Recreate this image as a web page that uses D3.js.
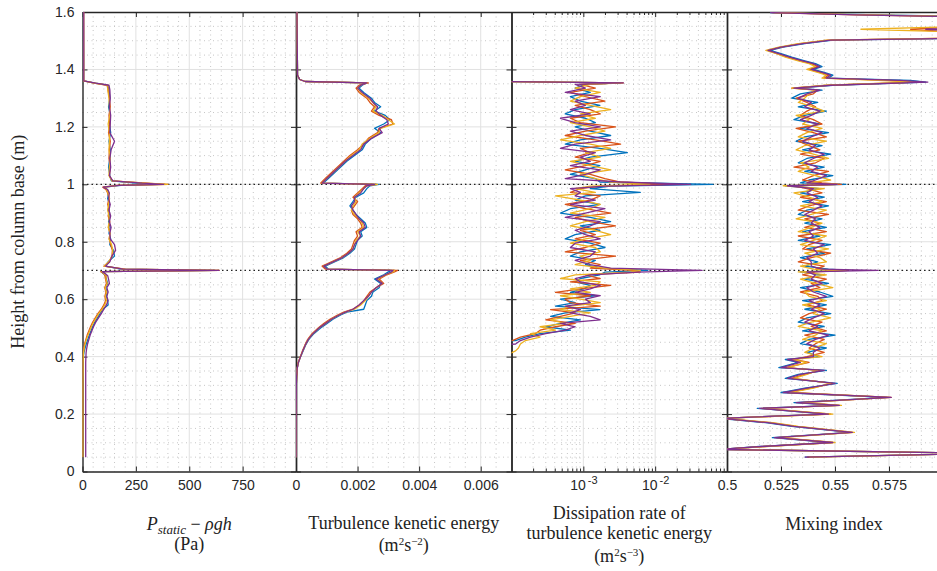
<!DOCTYPE html>
<html>
<head>
<meta charset="utf-8">
<script src="https://cdn.jsdelivr.net/npm/d3@7"></script>
<style>
  body { margin: 0; background: #fff; }
</style>
</head>
<body>
<svg id="chart" width="937" height="571"></svg>
<script>
// ---- data ----
const seriesColors = ["#0072BD", "#D95319", "#EDB120", "#7E2F8E"];

const yTicks = [0, 0.2, 0.4, 0.6, 0.8, 1.0, 1.2, 1.4, 1.6];
const yTickLabels = ["0", "0.2", "0.4", "0.6", "0.8", "1", "1.2", "1.4", "1.6"];
const refHeights = [1.0, 0.7];

// panel 1: P_static - rho g h (Pa)
const pressTicks = [0, 250, 500, 750];
const pressTickLabels = ["0", "250", "500", "750"];
const heightPress = [
  1.6, 1.36, 1.352, 1.345, 1.33, 1.30, 1.27, 1.24, 1.21, 1.18,
  1.15, 1.12, 1.09, 1.06, 1.03, 1.012, 1.004, 1.0, 0.996, 0.99,
  0.982, 0.97, 0.95, 0.93, 0.91, 0.89, 0.87, 0.85, 0.83, 0.81,
  0.79, 0.77, 0.75, 0.73, 0.715, 0.705, 0.7, 0.696, 0.69, 0.682,
  0.67, 0.655, 0.64, 0.625, 0.61, 0.595, 0.58, 0.565, 0.55, 0.535,
  0.52, 0.505, 0.49, 0.475, 0.46, 0.445, 0.43, 0.415, 0.40, 0.38,
  0.35, 0.30, 0.25, 0.20, 0.15, 0.10, 0.05
];
const pressBlue = [
  4, 5, 60, 118, 124, 128, 122, 130, 126, 132,
  124, 130, 128, 122, 128, 135, 250, 360, 180, 100,
  115, 122, 118, 126, 120, 128, 122, 130, 124, 132,
  128, 145, 150, 120, 105, 180, 620, 90, 95, 110,
  112, 118, 108, 115, 112, 118, 120, 95, 82, 70,
  58, 48, 40, 32, 25, 18, 12, 7, 4, 3,
  3, 3, 3, 3, 3, 3, 3
];
const pressOrange = [
  5, 5, 55, 115, 120, 126, 130, 124, 128, 122,
  130, 126, 124, 130, 126, 140, 300, 400, 160, 95,
  110, 118, 124, 118, 126, 120, 128, 122, 128, 126,
  132, 140, 138, 125, 100, 200, 640, 85, 100, 105,
  108, 112, 104, 110, 105, 108, 100, 88, 72, 60,
  48, 38, 30, 22, 16, 10, 6, 4, 3, 2,
  2, 2, 2, 2, 2, 2, 2
];
const pressYellow = [
  5, 6, 58, 120, 118, 124, 126, 128, 120, 126,
  126, 124, 130, 126, 124, 138, 290, 400, 170, 105,
  112, 120, 126, 122, 118, 124, 126, 120, 130, 124,
  136, 142, 140, 122, 102, 190, 640, 88, 98, 112,
  110, 116, 106, 112, 108, 112, 104, 92, 76, 64,
  52, 42, 34, 26, 18, 12, 8, 5, 3, 2,
  2, 1, 1, 1, 1, 1, 1
];
const pressPurple = [
  6, 6, 62, 124, 128, 130, 126, 132, 130, 128,
  150, 134, 128, 132, 126, 142, 280, 380, 170, 98,
  118, 126, 122, 130, 124, 132, 126, 134, 128, 130,
  150, 155, 138, 128, 108, 190, 640, 92, 105, 118,
  122, 126, 114, 120, 114, 120, 112, 100, 88, 75,
  62, 52, 44, 36, 30, 24, 20, 17, 16, 15,
  15, 15, 15, 15, 15, 15, 15
];

// panel 2: turbulence kinetic energy (m2 s-2)
const tkeTicks = [0, 0.002, 0.004, 0.006];
const tkeTickLabels = ["0", "0.002", "0.004", "0.006"];
const heightTke = [
  1.6, 1.38, 1.365, 1.358, 1.353, 1.345, 1.335, 1.32, 1.30, 1.285,
  1.27, 1.255, 1.24, 1.225, 1.21, 1.195, 1.18, 1.16, 1.14, 1.12,
  1.10, 1.08, 1.06, 1.04, 1.02, 1.004, 1.0, 0.995, 0.985, 0.97,
  0.955, 0.94, 0.925, 0.91, 0.895, 0.88, 0.865, 0.85, 0.835, 0.82,
  0.805, 0.79, 0.775, 0.76, 0.745, 0.73, 0.715, 0.705, 0.7, 0.695,
  0.685, 0.67, 0.655, 0.64, 0.625, 0.61, 0.595, 0.58, 0.565, 0.555,
  0.545, 0.53, 0.515, 0.5, 0.48, 0.46, 0.44, 0.42, 0.40, 0.38,
  0.36, 0.33, 0.30, 0.2, 0.1, 0.05
];
const tkeBlue = [
  0.03e-3, 0.05e-3, 0.12e-3, 0.3e-3, 2.3e-3, 2.15e-3, 2.05e-3, 2.2e-3, 2.45e-3, 2.55e-3,
  2.75e-3, 2.55e-3, 2.9e-3, 3.05e-3, 2.85e-3, 2.55e-3, 2.75e-3, 2.45e-3, 2.25e-3, 2.15e-3,
  1.9e-3, 1.65e-3, 1.45e-3, 1.25e-3, 1.05e-3, 0.88e-3, 2.7e-3, 2.4e-3, 2.3e-3, 2.2e-3,
  1.95e-3, 1.85e-3, 1.75e-3, 1.85e-3, 1.95e-3, 2.1e-3, 2.25e-3, 2.3e-3, 2.1e-3, 2.15e-3,
  2.0e-3, 1.95e-3, 1.9e-3, 1.75e-3, 1.55e-3, 1.25e-3, 0.95e-3, 1.05e-3, 3.1e-3, 3.0e-3,
  2.85e-3, 2.55e-3, 2.75e-3, 2.7e-3, 2.5e-3, 2.45e-3, 2.3e-3, 2.25e-3, 2.2e-3, 1.65e-3,
  1.45e-3, 1.2e-3, 1.0e-3, 0.8e-3, 0.58e-3, 0.42e-3, 0.31e-3, 0.23e-3, 0.15e-3, 0.08e-3,
  0.04e-3, 0.02e-3, 0.01e-3, 0.005e-3, 0.003e-3, 0.003e-3
];
const tkeOrange = [
  0.03e-3, 0.05e-3, 0.12e-3, 0.3e-3, 2.35e-3, 2.05e-3, 1.95e-3, 2.05e-3, 2.3e-3, 2.4e-3,
  2.55e-3, 2.45e-3, 2.7e-3, 3.1e-3, 3.15e-3, 2.7e-3, 2.65e-3, 2.35e-3, 2.2e-3, 2.0e-3,
  1.75e-3, 1.55e-3, 1.35e-3, 1.15e-3, 0.95e-3, 0.8e-3, 2.6e-3, 2.25e-3, 2.15e-3, 2.0e-3,
  1.85e-3, 2.0e-3, 1.9e-3, 1.8e-3, 1.85e-3, 2.0e-3, 2.1e-3, 2.15e-3, 1.95e-3, 2.0e-3,
  1.9e-3, 1.85e-3, 1.8e-3, 1.65e-3, 1.45e-3, 1.15e-3, 0.85e-3, 0.95e-3, 3.3e-3, 3.2e-3,
  2.95e-3, 2.7e-3, 2.85e-3, 2.6e-3, 2.4e-3, 2.3e-3, 2.2e-3, 2.05e-3, 1.85e-3, 1.55e-3,
  1.35e-3, 1.1e-3, 0.9e-3, 0.72e-3, 0.52e-3, 0.38e-3, 0.29e-3, 0.21e-3, 0.14e-3, 0.07e-3,
  0.04e-3, 0.02e-3, 0.01e-3, 0.005e-3, 0.003e-3, 0.003e-3
];
const tkeYellow = [
  0.03e-3, 0.05e-3, 0.12e-3, 0.3e-3, 2.3e-3, 2.1e-3, 2.0e-3, 2.1e-3, 2.35e-3, 2.5e-3,
  2.6e-3, 2.5e-3, 2.8e-3, 3.0e-3, 3.2e-3, 2.75e-3, 2.7e-3, 2.4e-3, 2.15e-3, 2.05e-3,
  1.8e-3, 1.6e-3, 1.4e-3, 1.2e-3, 1.0e-3, 0.85e-3, 2.65e-3, 2.3e-3, 2.2e-3, 2.05e-3,
  1.9e-3, 1.95e-3, 1.85e-3, 1.8e-3, 1.9e-3, 2.05e-3, 2.15e-3, 2.2e-3, 2.0e-3, 2.1e-3,
  1.95e-3, 1.9e-3, 1.85e-3, 1.7e-3, 1.5e-3, 1.2e-3, 0.9e-3, 1.0e-3, 3.2e-3, 3.15e-3,
  2.9e-3, 2.65e-3, 2.8e-3, 2.6e-3, 2.45e-3, 2.35e-3, 2.25e-3, 2.1e-3, 1.9e-3, 1.6e-3,
  1.4e-3, 1.15e-3, 0.95e-3, 0.75e-3, 0.55e-3, 0.4e-3, 0.3e-3, 0.22e-3, 0.15e-3, 0.08e-3,
  0.04e-3, 0.02e-3, 0.01e-3, 0.005e-3, 0.003e-3, 0.003e-3
];
const tkePurple = [
  0.03e-3, 0.05e-3, 0.12e-3, 0.3e-3, 2.3e-3, 2.1e-3, 2.0e-3, 2.15e-3, 2.4e-3, 2.5e-3,
  2.65e-3, 2.6e-3, 2.75e-3, 2.95e-3, 3.0e-3, 2.7e-3, 2.8e-3, 2.45e-3, 2.2e-3, 2.1e-3,
  1.85e-3, 1.6e-3, 1.4e-3, 1.2e-3, 1.0e-3, 0.85e-3, 2.55e-3, 2.3e-3, 2.2e-3, 2.1e-3,
  1.9e-3, 1.9e-3, 1.8e-3, 1.85e-3, 1.95e-3, 2.05e-3, 2.2e-3, 2.25e-3, 2.05e-3, 2.1e-3,
  2.0e-3, 1.9e-3, 1.85e-3, 1.7e-3, 1.5e-3, 1.2e-3, 0.9e-3, 1.0e-3, 3.15e-3, 3.1e-3,
  2.9e-3, 2.6e-3, 2.8e-3, 2.6e-3, 2.45e-3, 2.35e-3, 2.2e-3, 2.05e-3, 1.85e-3, 1.6e-3,
  1.4e-3, 1.15e-3, 0.95e-3, 0.75e-3, 0.55e-3, 0.4e-3, 0.3e-3, 0.22e-3, 0.15e-3, 0.08e-3,
  0.04e-3, 0.02e-3, 0.01e-3, 0.005e-3, 0.003e-3, 0.003e-3
];

// panel 3: dissipation rate (m2 s-3), log axis
const epsTicks = [1e-3, 1e-2];
const epsTickBase = ["10", "10"];
const epsTickExp = ["-3", "-2"];
const heightEps = [
  1.6, 1.36, 1.353, 1.348, 1.335, 1.32, 1.305, 1.29, 1.275, 1.26,
  1.245, 1.23, 1.215, 1.2, 1.185, 1.17, 1.155, 1.14, 1.125, 1.11,
  1.095, 1.08, 1.065, 1.05, 1.035, 1.02, 1.008, 1.0, 0.994, 0.985,
  0.972, 0.96, 0.945, 0.93, 0.915, 0.9, 0.885, 0.87, 0.855, 0.84,
  0.825, 0.81, 0.795, 0.78, 0.765, 0.75, 0.735, 0.72, 0.708, 0.7,
  0.694, 0.685, 0.672, 0.66, 0.648, 0.636, 0.624, 0.612, 0.6, 0.588,
  0.576, 0.564, 0.552, 0.54, 0.528, 0.516, 0.504, 0.492, 0.48, 0.468,
  0.456, 0.444, 0.43, 0.42, 0.3, 0.05
];
const epsBlue = [
  1e-5, 1e-5, 3.3e-3, 1.07e-3, 7.7e-4, 1.25e-3, 6.6e-4, 9.1e-4, 1.7e-3, 7.7e-4,
  5.6e-4, 1.07e-3, 1.47e-3, 7.7e-4, 1.25e-3, 2.4e-3, 9.1e-4, 5.6e-4, 1.7e-3, 4.1e-3,
  1.25e-3, 7.7e-4, 1.7e-3, 1.07e-3, 6.6e-4, 1.47e-3, 1.7e-3, 6.4e-2, 2.4e-3, 1.25e-3,
  6.2e-3, 1.07e-3, 7.7e-4, 1.7e-3, 6.6e-4, 4.8e-4, 1.25e-3, 2.4e-3, 9.1e-4, 1.7e-3,
  7.7e-4, 5.6e-4, 1.25e-3, 2.0e-3, 9.1e-4, 6.6e-4, 1.47e-3, 1.07e-3, 1.7e-3, 7.9e-3,
  2.0e-3, 1.7e-3, 9.1e-4, 7.7e-4, 1.25e-3, 1.0e-3, 6.6e-4, 1.47e-3, 4.8e-4, 7.7e-4,
  4.1e-4, 1.7e-3, 5.6e-4, 3.5e-4, 9.1e-4, 4.8e-4, 3.0e-4, 6.6e-4, 2.5e-4, 1.56e-4,
  1.14e-4, 1e-5, 1e-5, 1e-5, 1e-5, 1e-5
];
const epsOrange = [
  1e-5, 1e-5, 3.6e-3, 9.1e-4, 1.47e-3, 6.6e-4, 1.07e-3, 2.0e-3, 7.7e-4, 1.25e-3,
  1.72e-3, 6.6e-4, 9.1e-4, 2.8e-3, 1.07e-3, 5.6e-4, 1.47e-3, 3.3e-3, 9.1e-4, 1.25e-3,
  7.7e-4, 1.72e-3, 1.07e-3, 5.6e-4, 1.25e-3, 2.0e-3, 3.3e-3, 1.6e-2, 1.72e-3, 9.1e-4,
  6.6e-4, 1.72e-3, 1.25e-3, 5.6e-4, 1.07e-3, 2.4e-3, 7.7e-4, 1.25e-3, 2.8e-3, 9.1e-4,
  1.47e-3, 7.7e-4, 1.72e-3, 1.07e-3, 5.6e-4, 2.8e-3, 9.1e-4, 1.72e-3, 1.25e-3, 4.9e-3,
  6.2e-3, 1.07e-3, 1.72e-3, 6.6e-4, 2.4e-3, 9.1e-4, 4.1e-4, 1.25e-3, 5.6e-4, 6.6e-4,
  1.72e-3, 3.5e-4, 7.7e-4, 4.8e-4, 3.0e-4, 7.7e-4, 4.1e-4, 2.5e-4, 2.15e-4, 1.33e-4,
  1.03e-4, 1e-5, 1e-5, 1e-5, 1e-5, 1e-5
];
const epsYellow = [
  1e-5, 1e-5, 3.5e-3, 1.25e-3, 7.7e-4, 1.72e-3, 9.1e-4, 6.6e-4, 1.25e-3, 2.4e-3,
  9.1e-4, 1.47e-3, 6.6e-4, 1.25e-3, 2.0e-3, 9.1e-4, 4.8e-4, 1.25e-3, 2.4e-3, 1.07e-3,
  1.72e-3, 6.6e-4, 1.25e-3, 2.4e-3, 9.1e-4, 1.47e-3, 2.4e-3, 8.5e-3, 1.25e-3, 7.7e-4,
  1.47e-3, 4.1e-4, 9.1e-4, 1.72e-3, 1.25e-3, 6.6e-4, 2.0e-3, 1.07e-3, 6.6e-4, 1.47e-3,
  2.4e-3, 1.07e-3, 6.6e-4, 1.47e-3, 1.72e-3, 9.1e-4, 1.25e-3, 7.7e-4, 2.0e-3, 6.2e-3,
  4.5e-3, 7.7e-4, 4.8e-4, 1.72e-3, 1.47e-3, 6.6e-4, 1.25e-3, 4.8e-4, 9.1e-4, 1.72e-3,
  6.6e-4, 4.8e-4, 1.25e-3, 6.6e-4, 3.5e-4, 5.6e-4, 2.5e-4, 4.1e-4, 1.84e-4, 2.5e-4,
  1.56e-4, 1.33e-4, 1.25e-4, 1.14e-4, 1e-5, 1e-5
];
const epsPurple = [
  1e-5, 1e-5, 3.6e-3, 7.7e-4, 1.07e-3, 5.6e-4, 1.72e-3, 7.7e-4, 1.07e-3, 6.6e-4,
  1.25e-3, 4.8e-4, 7.7e-4, 1.72e-3, 6.6e-4, 1.07e-3, 2.4e-3, 7.7e-4, 4.8e-4, 1.47e-3,
  9.1e-4, 1.25e-3, 6.6e-4, 1.72e-3, 1.07e-3, 5.6e-4, 3.3e-3, 3.1e-2, 2.0e-3, 6.6e-4,
  9.1e-4, 7.7e-4, 1.47e-3, 6.6e-4, 2.0e-3, 1.07e-3, 5.6e-4, 1.72e-3, 1.25e-3, 7.7e-4,
  1.07e-3, 1.72e-3, 7.7e-4, 6.6e-4, 1.47e-3, 1.25e-3, 7.7e-4, 1.25e-3, 2.4e-3, 4.5e-2,
  5.8e-3, 1.25e-3, 7.7e-4, 9.1e-4, 1.72e-3, 1.25e-3, 7.7e-4, 1.72e-3, 1.07e-3, 1.25e-3,
  5.6e-4, 9.1e-4, 6.6e-4, 1.25e-3, 1.72e-3, 4.8e-4, 7.7e-4, 5.6e-4, 3.0e-4, 1.84e-4,
  1.33e-4, 1.14e-4, 1e-5, 1e-5, 1e-5, 1e-5
];

// panel 4: mixing index
const mixTicks = [0.5, 0.525, 0.55, 0.575];
const mixTickLabels = ["0.5", "0.525", "0.55", "0.575"];
const heightMix = [
  1.598, 1.59, 1.582, 1.565, 1.548, 1.54, 1.532, 1.522, 1.51, 1.502,
  1.49, 1.478, 1.466, 1.455, 1.443, 1.43, 1.42, 1.41, 1.4, 1.39,
  1.38, 1.37, 1.362, 1.356, 1.345, 1.335, 1.328, 1.315, 1.3, 1.285,
  1.27, 1.255, 1.24, 1.225, 1.21, 1.195, 1.18, 1.165, 1.15, 1.135,
  1.12, 1.105, 1.09, 1.075, 1.06, 1.045, 1.03, 1.015, 1.005, 1.0,
  0.995, 0.985, 0.97, 0.955, 0.94, 0.925, 0.91, 0.895, 0.88, 0.865,
  0.85, 0.835, 0.82, 0.805, 0.79, 0.775, 0.76, 0.745, 0.73, 0.715,
  0.705, 0.7, 0.695, 0.685, 0.67, 0.655, 0.64, 0.625, 0.61, 0.595,
  0.58, 0.565, 0.55, 0.535, 0.52, 0.505, 0.49, 0.475, 0.46, 0.445,
  0.43, 0.415, 0.4, 0.39, 0.38, 0.362, 0.352, 0.338, 0.324, 0.307,
  0.29, 0.275, 0.258, 0.24, 0.23, 0.22, 0.2, 0.185, 0.17, 0.157,
  0.136, 0.118, 0.101, 0.087, 0.077, 0.063, 0.05
];
const mixBlue = [
  0.520, 0.57, 0.63, 0.63, 0.615, 0.60, 0.615, 0.63, 0.625, 0.549,
  0.536, 0.526, 0.520, 0.525, 0.530, 0.536, 0.541, 0.544, 0.540, 0.545,
  0.549, 0.547, 0.585, 0.592, 0.549, 0.532, 0.544, 0.534, 0.530, 0.542,
  0.533, 0.546, 0.536, 0.531, 0.543, 0.534, 0.547, 0.536, 0.532, 0.544,
  0.535, 0.548, 0.537, 0.533, 0.545, 0.536, 0.549, 0.538, 0.534, 0.555,
  0.527, 0.543, 0.534, 0.545, 0.535, 0.547, 0.537, 0.533, 0.544, 0.536,
  0.546, 0.535, 0.543, 0.533, 0.548, 0.537, 0.545, 0.534, 0.542, 0.536,
  0.547, 0.556, 0.534, 0.544, 0.536, 0.547, 0.534, 0.543, 0.549, 0.535,
  0.546, 0.536, 0.548, 0.537, 0.533, 0.545, 0.535, 0.550, 0.538, 0.534,
  0.546, 0.537, 0.543, 0.527, 0.533, 0.524, 0.546, 0.533, 0.527, 0.551,
  0.536, 0.525, 0.574, 0.531, 0.551, 0.514, 0.546, 0.497, 0.518, 0.530,
  0.557, 0.521, 0.548, 0.515, 0.497, 0.62, 0.536
];
const mixOrange = [
  0.521, 0.56, 0.62, 0.625, 0.605, 0.585, 0.6, 0.625, 0.615, 0.547,
  0.534, 0.525, 0.519, 0.523, 0.528, 0.534, 0.539, 0.542, 0.538, 0.543,
  0.547, 0.545, 0.575, 0.588, 0.547, 0.530, 0.542, 0.540, 0.532, 0.537,
  0.541, 0.537, 0.534, 0.540, 0.544, 0.532, 0.540, 0.546, 0.533, 0.538,
  0.543, 0.534, 0.545, 0.541, 0.531, 0.547, 0.540, 0.535, 0.544, 0.553,
  0.531, 0.537, 0.544, 0.534, 0.546, 0.538, 0.533, 0.547, 0.536, 0.543,
  0.536, 0.546, 0.533, 0.544, 0.538, 0.535, 0.548, 0.539, 0.533, 0.545,
  0.541, 0.556, 0.541, 0.535, 0.546, 0.539, 0.543, 0.534, 0.542, 0.544,
  0.537, 0.546, 0.538, 0.534, 0.544, 0.539, 0.546, 0.536, 0.545, 0.541,
  0.538, 0.545, 0.537, 0.531, 0.538, 0.527, 0.543, 0.536, 0.530, 0.549,
  0.539, 0.528, 0.576, 0.534, 0.552, 0.516, 0.548, 0.497, 0.520, 0.532,
  0.558, 0.523, 0.549, 0.517, 0.497, 0.62, 0.537
];
const mixYellow = [
  0.522, 0.565, 0.62, 0.62, 0.6, 0.562, 0.6, 0.62, 0.61, 0.546,
  0.533, 0.524, 0.518, 0.523, 0.527, 0.533, 0.538, 0.541, 0.537, 0.542,
  0.546, 0.544, 0.57, 0.586, 0.546, 0.530, 0.541, 0.538, 0.536, 0.533,
  0.540, 0.545, 0.532, 0.538, 0.535, 0.544, 0.537, 0.533, 0.546, 0.536,
  0.532, 0.540, 0.547, 0.534, 0.538, 0.533, 0.541, 0.548, 0.537, 0.551,
  0.526, 0.545, 0.531, 0.538, 0.544, 0.534, 0.546, 0.539, 0.532, 0.544,
  0.539, 0.533, 0.546, 0.540, 0.534, 0.547, 0.536, 0.543, 0.546, 0.534,
  0.540, 0.555, 0.533, 0.546, 0.534, 0.541, 0.549, 0.536, 0.538, 0.546,
  0.535, 0.543, 0.540, 0.548, 0.539, 0.533, 0.544, 0.541, 0.535, 0.546,
  0.540, 0.536, 0.544, 0.530, 0.537, 0.528, 0.542, 0.537, 0.531, 0.548,
  0.540, 0.529, 0.575, 0.535, 0.553, 0.517, 0.549, 0.498, 0.521, 0.533,
  0.559, 0.524, 0.550, 0.518, 0.498, 0.62, 0.538
];
const mixPurple = [
  0.520, 0.56, 0.62, 0.63, 0.61, 0.592, 0.61, 0.63, 0.62, 0.548,
  0.535, 0.525, 0.519, 0.524, 0.529, 0.535, 0.540, 0.543, 0.539, 0.544,
  0.548, 0.546, 0.58, 0.593, 0.548, 0.531, 0.543, 0.537, 0.533, 0.539,
  0.536, 0.543, 0.539, 0.534, 0.542, 0.537, 0.544, 0.539, 0.535, 0.541,
  0.538, 0.545, 0.540, 0.536, 0.542, 0.539, 0.546, 0.541, 0.537, 0.551,
  0.528, 0.540, 0.537, 0.542, 0.538, 0.544, 0.540, 0.536, 0.541, 0.539,
  0.543, 0.538, 0.540, 0.536, 0.545, 0.540, 0.542, 0.537, 0.539, 0.539,
  0.544, 0.570, 0.537, 0.541, 0.539, 0.544, 0.537, 0.540, 0.546, 0.538,
  0.543, 0.539, 0.545, 0.540, 0.536, 0.542, 0.538, 0.547, 0.541, 0.537,
  0.543, 0.540, 0.540, 0.528, 0.534, 0.525, 0.545, 0.534, 0.528, 0.550,
  0.537, 0.526, 0.576, 0.532, 0.552, 0.515, 0.547, 0.497, 0.519, 0.531,
  0.558, 0.522, 0.549, 0.516, 0.497, 0.62, 0.536
];

// ---- drawing ----
const width = 937;
const height = 571;
const plotTop = 12, plotBottom = 471.5;
const axisColor = "#262626";
const tickFont = "Liberation Sans, Arial, sans-serif";
const labelFont = "Liberation Serif, DejaVu Serif, serif";

const svg = d3.select("#chart");
svg.append("rect").attr("width", width).attr("height", height).attr("fill", "#fff");

const y = d3.scaleLinear().domain([0, 1.6]).range([plotBottom, plotTop]);
const yMinor = d3.range(0.05, 1.6, 0.05).filter(v => Math.abs(v / 0.2 - Math.round(v / 0.2)) > 1e-6);

const logMinor = [];
[1e-4, 1e-3, 1e-2].forEach(d => d3.range(2, 10).forEach(m => logMinor.push(m * d)));

const panels = [
  {
    x: d3.scaleLinear().domain([0, 1000]).range([82.5, 296]),
    h: heightPress, series: [pressBlue, pressOrange, pressYellow, pressPurple],
    ticks: pressTicks, labels: pressTickLabels,
    minor: d3.range(50, 1000, 50).filter(v => v % 250 !== 0),
    major: [250, 500, 750]
  },
  {
    x: d3.scaleLinear().domain([0, 0.007]).range([296, 511.5]),
    h: heightTke, series: [tkeBlue, tkeOrange, tkeYellow, tkePurple],
    ticks: tkeTicks, labels: tkeTickLabels,
    minor: [0.0005, 0.001, 0.0015, 0.0025, 0.003, 0.0035, 0.0045, 0.005, 0.0055, 0.0065],
    major: [0.002, 0.004, 0.006]
  },
  {
    x: d3.scaleLog().domain([1e-4, 1e-1]).range([511.5, 727]),
    h: heightEps, series: [epsBlue, epsOrange, epsYellow, epsPurple],
    ticks: epsTicks, labels: null, log: true,
    minor: logMinor,
    major: [1e-3, 1e-2]
  },
  {
    x: d3.scaleLinear().domain([0.5, 0.6]).range([727, 943]),
    h: heightMix, series: [mixBlue, mixOrange, mixYellow, mixPurple],
    ticks: mixTicks, labels: mixTickLabels,
    minor: d3.range(0.505, 0.6, 0.005).filter(v => Math.abs(v / 0.025 - Math.round(v / 0.025)) > 1e-6),
    major: [0.525, 0.55, 0.575]
  }
];

const defs = svg.append("defs");
const gridG = svg.append("g");
const refG = svg.append("g");
const axisG = svg.append("g");
const dataG = svg.append("g");

panels.forEach((p, i) => {
  const [x0, x1] = p.x.range();

  // grid
  gridG.append("g").selectAll("line").data(p.minor).join("line")
    .attr("x1", d => p.x(d)).attr("x2", d => p.x(d))
    .attr("y1", plotTop).attr("y2", plotBottom)
    .attr("stroke", "#b8b8b8").attr("stroke-width", 0.8)
    .attr("stroke-dasharray", "1,3.5");
  gridG.append("g").selectAll("line").data(yMinor).join("line")
    .attr("x1", x0).attr("x2", x1)
    .attr("y1", d => y(d)).attr("y2", d => y(d))
    .attr("stroke", "#b8b8b8").attr("stroke-width", 0.8)
    .attr("stroke-dasharray", "1,3.5");
  gridG.append("g").selectAll("line").data(p.major).join("line")
    .attr("x1", d => p.x(d)).attr("x2", d => p.x(d))
    .attr("y1", plotTop).attr("y2", plotBottom)
    .attr("stroke", "#e1e1e1").attr("stroke-width", 1);
  gridG.append("g").selectAll("line").data(yTicks.slice(1, -1)).join("line")
    .attr("x1", x0).attr("x2", x1)
    .attr("y1", d => y(d)).attr("y2", d => y(d))
    .attr("stroke", "#e1e1e1").attr("stroke-width", 1);

  // axes
  const bottomAxis = d3.axisBottom(p.x).tickValues(p.ticks)
    .tickSizeInner(-5).tickSizeOuter(0).tickPadding(9)
    .tickFormat((d, k) => p.labels ? p.labels[k] : "");
  const gb = axisG.append("g").attr("transform", `translate(0,${plotBottom})`).call(bottomAxis);
  if (p.log) {
    gb.selectAll(".tick text").each(function (d, k) {
      const t = d3.select(this);
      t.append("tspan").text(epsTickBase[k]);
      t.append("tspan").attr("dx", 2).attr("dy", "-0.55em").attr("font-size", 11).text(epsTickExp[k]);
    });
    [plotBottom, plotTop].forEach((yy, j) => {
      const ax = (j === 0 ? d3.axisBottom(p.x) : d3.axisTop(p.x))
        .tickSizeInner(-3).tickValues(logMinor).tickSizeOuter(0).tickFormat(() => "");
      const gm = axisG.append("g").attr("transform", `translate(0,${yy})`).call(ax);
      gm.select(".domain").remove();
    });
  }
  const topAxis = d3.axisTop(p.x).tickValues(p.ticks)
    .tickSizeInner(-5).tickSizeOuter(0).tickFormat(() => "");
  axisG.append("g").attr("transform", `translate(0,${plotTop})`).call(topAxis);

  const leftAxis = d3.axisLeft(y).tickValues(yTicks)
    .tickSizeInner(-5).tickSizeOuter(0).tickPadding(8)
    .tickFormat((d, k) => i === 0 ? yTickLabels[k] : "");
  axisG.append("g").attr("transform", `translate(${x0},0)`).call(leftAxis);

  const rightAxis = d3.axisRight(y).tickValues(yTicks)
    .tickSizeInner(-5).tickSizeOuter(0).tickFormat(() => "");
  axisG.append("g").attr("transform", `translate(${x1},0)`).call(rightAxis);

  // data
  defs.append("clipPath").attr("id", "clip" + i)
    .append("rect").attr("x", x0).attr("y", plotTop)
    .attr("width", x1 - x0).attr("height", plotBottom - plotTop);

  const line = d3.line().x(d => p.x(d[1])).y(d => y(d[0]));
  const pg = dataG.append("g").attr("clip-path", `url(#clip${i})`);
  p.series.forEach((vals, s) => {
    pg.append("path")
      .datum(d3.zip(p.h, vals))
      .attr("d", line)
      .attr("fill", "none")
      .attr("stroke", seriesColors[s])
      .attr("stroke-width", 1.3)
      .attr("stroke-linejoin", "round");
  });
});

// dotted reference heights
refG.selectAll("line").data(refHeights).join("line")
  .attr("x1", 82.5).attr("x2", width)
  .attr("y1", d => y(d)).attr("y2", d => y(d))
  .attr("stroke", "#222").attr("stroke-width", 1.3)
  .attr("stroke-dasharray", "1.5,3");

axisG.selectAll(".domain").attr("stroke", axisColor).attr("stroke-width", 1.4);
axisG.selectAll(".tick line").attr("stroke", axisColor).attr("stroke-width", 1);
axisG.selectAll("g")
  .attr("font-family", tickFont)
  .attr("font-size", 14);
axisG.selectAll(".tick text").attr("fill", axisColor);

// axis titles
const labels = svg.append("g")
  .attr("font-family", labelFont)
  .attr("font-size", 18)
  .attr("fill", "#222")
  .attr("text-anchor", "middle");

labels.append("text")
  .attr("transform", `translate(24,${y(0.8)}) rotate(-90)`)
  .text("Height from column base (m)");

function cx(i) {
  const r = panels[i].x.range();
  return (r[0] + r[1]) / 2;
}

// panel 1
const t1 = labels.append("text").attr("x", cx(0)).attr("y", 530);
t1.append("tspan").attr("font-style", "italic").text("P");
t1.append("tspan").attr("font-style", "italic").attr("font-size", 13).attr("dy", 4).text("static");
t1.append("tspan").attr("dy", -4).text(" − ");
t1.append("tspan").attr("font-style", "italic").text("ρgh");
labels.append("text").attr("x", cx(0)).attr("y", 550).text("(Pa)");

function unitText(xp, yp, exp) {
  const t = labels.append("text").attr("x", xp).attr("y", yp);
  t.append("tspan").text("(m");
  t.append("tspan").attr("font-size", 11).attr("dy", -6).text("2");
  t.append("tspan").attr("dy", 6).text("s");
  t.append("tspan").attr("font-size", 11).attr("dy", -6).text(exp);
  t.append("tspan").attr("dy", 6).text(")");
}

// panel 2
labels.append("text").attr("x", cx(1)).attr("y", 529).text("Turbulence kenetic energy");
unitText(cx(1), 551, "−2");

// panel 3
labels.append("text").attr("x", cx(2)).attr("y", 519).text("Dissipation rate of");
labels.append("text").attr("x", cx(2)).attr("y", 539).text("turbulence kenetic energy");
unitText(cx(2), 562, "−3");

// panel 4
labels.append("text").attr("x", cx(3) - 1).attr("y", 530).text("Mixing index");
</script>
</body>
</html>
